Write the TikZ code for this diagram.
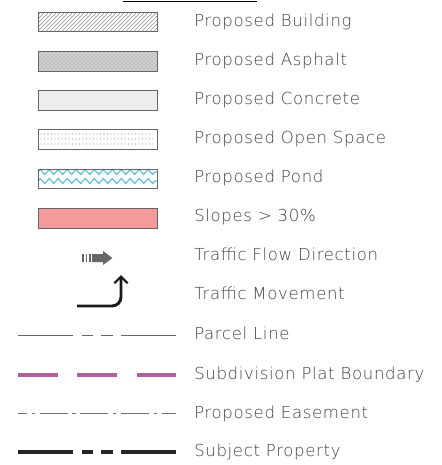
\documentclass[tikz,border=0pt]{standalone}
\usepackage{fontspec}
\usepackage{tikz}
\usetikzlibrary{decorations.pathmorphing,patterns,arrows.meta}
\newfontfamily\lgdfont[LetterSpace=4]{DejaVu Sans ExtraLight}
\definecolor{pondblue}{HTML}{6CC3D3}
\definecolor{slopepink}{HTML}{F4999C}
\definecolor{platpurple}{HTML}{B060A2}
\definecolor{dotgreen}{HTML}{8FA38C}

\begin{document}
\begin{tikzpicture}[x=0.75pt,y=-0.75pt,
    lbl/.style={anchor=base west, inner sep=0pt, font=\lgdfont\fontsize{12.4}{14}\selectfont, text=black!75},
    swatch/.style={draw=black!60, line width=0.6pt}]
        \useasboundingbox (0,0) rectangle (442,465);
        % heading rule
            \draw [line width=0.6pt] (123,1) -- (257,1);
        % swatches
            \draw [swatch, pattern=north east lines, pattern color=black!45] (38,12) rectangle (157,31);
            \fill [black!18] (38,51) rectangle (157,71);
            \draw [swatch, pattern=crosshatch dots, pattern color=black!45] (38,51) rectangle (157,71);
            \draw [swatch, fill=black!7] (38,90) rectangle (157,110);
            \draw [swatch] (38,129) rectangle (157,149);
            \foreach \yy in {134,139,144}
                \foreach \xx in {41,44.5,...,155}
                    \fill [dotgreen] (\xx,\yy) circle (0.5pt);
            \draw [pondblue, line width=1pt, decorate, decoration={zigzag, segment length=6.75pt, amplitude=1.8pt}] (38,172) -- (157,172);
            \draw [pondblue, line width=1pt, decorate, decoration={zigzag, segment length=6.75pt, amplitude=1.8pt}] (38,181) -- (157,181);
            \draw [swatch] (38,169) rectangle (157,188);
            \draw [swatch, fill=slopepink] (38,208) rectangle (157,228);
        % traffic arrows
            \foreach \xx in {82,85.5,89}
                \fill [black!60] (\xx,254) rectangle ++(1.5,8);
            \fill [black!60] (92,254) -- (103,254) -- (103,251) -- (112.5,258) -- (103,265) -- (103,262) -- (92,262) -- cycle;
            \draw [black!90, line width=2.2pt, -{Straight Barb[length=5pt, width=10pt, line width=1.6pt]}] (77,306) -- (112,306) to[out=0, in=-90] (121,297) -- (121,275);
        % line types
            \draw [black!60, line width=0.7pt, dash pattern=on 41.25pt off 6.75pt on 8.25pt off 6pt on 9pt off 6pt on 41.25pt off 20pt] (18,335) -- (176,335);
            \draw [platpurple, line width=2.3pt, dash pattern=on 30pt off 14.5pt] (18,375) -- (176,375);
            \draw [black!55, line width=0.7pt, dash pattern=on 21pt off 3.5pt on 2.5pt off 3.5pt, dash phase=14.25pt] (18,413) -- (176,413);
            \draw [black!85, line width=3pt, dash pattern=on 41.25pt off 6.75pt on 8.25pt off 6pt on 9pt off 6pt on 41.25pt off 20pt] (18,452) -- (176,452);
        % labels
            \node [lbl] (building) at (194,26) {Proposed Building};
            \node [lbl] (asphalt) at (194,65) {Proposed Asphalt};
            \node [lbl] (concrete) at (194,104) {Proposed Concrete};
            \node [lbl] (openspace) at (194,143) {Proposed Open Space};
            \node [lbl] (pond) at (194,182) {Proposed Pond};
            \node [lbl] (slopes) at (194,221) {Slopes > 30\%};
            \node [lbl] (flow) at (194,260) {Traffic Flow Direction};
            \node [lbl] (movement) at (194,299) {Traffic Movement};
            \node [lbl] (parcel) at (194,339) {Parcel Line};
            \node [lbl] (plat) at (194,379) {Subdivision Plat Boundary};
            \node [lbl] (easement) at (194,418) {Proposed Easement};
            \node [lbl] (subject) at (194,456) {Subject Property};
    \end{tikzpicture}
\end{document}
